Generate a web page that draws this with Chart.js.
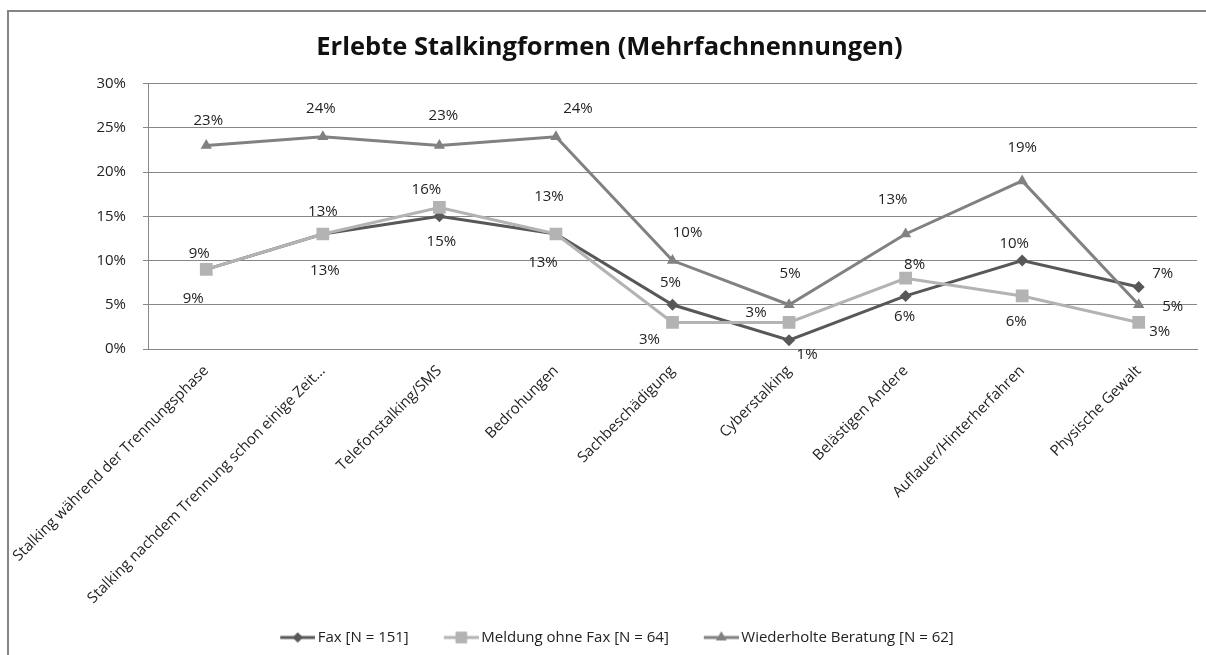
<!DOCTYPE html>
<html>
<head>
<meta charset="utf-8">
<script src="https://cdn.jsdelivr.net/npm/chart.js@4.4.1/dist/chart.umd.min.js"></script>
<style>
  html, body { margin: 0; padding: 0; background: #fff; }
  #wrap { width: 1206px; height: 655px; }
</style>
</head>
<body>
<div id="wrap"><canvas id="chart" width="1206" height="655"></canvas></div>
<script>
// Data
const categories = [
    'Stalking während der Trennungsphase',
    'Stalking nachdem Trennung schon einige Zeit...',
    'Telefonstalking/SMS',
    'Bedrohungen',
    'Sachbeschädigung',
    'Cyberstalking',
    'Belästigen Andere',
    'Auflauer/Hinterherfahren',
    'Physische Gewalt'
];
const seriesNames = ['Fax [N = 151]', 'Meldung ohne Fax [N = 64]', 'Wiederholte Beratung [N = 62]'];
const faxValues = [9, 13, 15, 13, 5, 1, 6, 10, 7];
const meldungValues = [9, 13, 16, 13, 3, 3, 8, 6, 3];
const beratungValues = [23, 24, 23, 24, 10, 5, 13, 19, 5];
const yMin = 0, yMax = 30, yStep = 5;

// where each value label sits relative to its point (dx, dy in px), like Excel did it
const faxLabelOffsets = [[-13, 29], [2, 37], [2, 25], [-13, 29], [-2, -22], [18, 15], [-1, 21], [-8, -17], [24, -13]];
const meldungLabelOffsets = [[-7, -16], [0, -22], [-13, -18], [-7, -37], [-23, 17], [-33, -10], [9, -13], [-6, 26], [21, 9]];
const beratungLabelOffsets = [[2, -25], [-2, -28], [4, -30], [22, -28], [15, -28], [1, -31], [-13, -34], [0, -33], [34, 2]];

const FONT = '"Open Sans", sans-serif';
const GRID = '#878787';
const TEXT = '#222';

// legend symbol: short line with the marker in the middle.
// The 15px blank on the left gives the wider gap between legend entries.
function legendSymbol(color, style, r) {
    const c = document.createElement('canvas');
    c.width = 55; c.height = 16;
    const ctx = c.getContext('2d');
    ctx.strokeStyle = color;
    ctx.lineWidth = 3;
    ctx.beginPath();
    ctx.moveTo(20, 8); ctx.lineTo(55, 8);
    ctx.stroke();
    ctx.fillStyle = color;
    Chart.helpers.drawPoint(ctx, { pointStyle: style, radius: r, rotation: 0, borderWidth: 0 }, 37.5, 8);
    ctx.fill();
    return c;
}

const framePlugin = {
    id: 'frame',
    beforeDraw(chart) {
        const ctx = chart.ctx;
        ctx.save();
        ctx.fillStyle = '#fff';
        ctx.fillRect(0, 0, chart.width, chart.height);
        ctx.strokeStyle = '#858585';
        ctx.lineWidth = 2;
        ctx.beginPath();
        ctx.moveTo(8, chart.height);
        ctx.lineTo(8, 11);
        ctx.lineTo(chart.width, 11);
        ctx.stroke();
        ctx.restore();
    }
};

const valueLabels = {
    id: 'valueLabels',
    afterDatasetsDraw(chart) {
        const ctx = chart.ctx;
        ctx.save();
        ctx.font = '15px ' + FONT;
        ctx.fillStyle = TEXT;
        ctx.textAlign = 'center';
        ctx.textBaseline = 'middle';
        chart.data.datasets.forEach((ds, d) => {
            const meta = chart.getDatasetMeta(d);
            meta.data.forEach((pt, i) => {
                const off = ds.labelOffsets[i];
                ctx.fillText(ds.data[i] + '%', pt.x + off[0], pt.y + off[1]);
            });
        });
        ctx.restore();
    }
};

const faxColor = '#585858';
const meldungColor = '#b3b3b3';
const beratungColor = '#818181';

new Chart(document.getElementById('chart'), {
    type: 'line',
    data: {
        labels: categories,
        datasets: [
            {
                label: seriesNames[0],
                data: faxValues,
                labelOffsets: faxLabelOffsets,
                borderColor: faxColor,
                backgroundColor: faxColor,
                borderWidth: 3,
                pointStyle: 'rectRot',
                pointRadius: 6,
                pointBorderWidth: 0,
                order: 3,
                legendIcon: legendSymbol(faxColor, 'rectRot', 5)
            },
            {
                label: seriesNames[1],
                data: meldungValues,
                labelOffsets: meldungLabelOffsets,
                borderColor: meldungColor,
                backgroundColor: meldungColor,
                borderWidth: 3,
                pointStyle: 'rect',
                pointRadius: 9,
                pointBorderWidth: 0,
                order: 2,
                legendIcon: legendSymbol(meldungColor, 'rect', 8)
            },
            {
                label: seriesNames[2],
                data: beratungValues,
                labelOffsets: beratungLabelOffsets,
                borderColor: beratungColor,
                backgroundColor: beratungColor,
                borderWidth: 3,
                pointStyle: 'triangle',
                pointRadius: 6.5,
                pointBorderWidth: 0,
                order: 1,
                legendIcon: legendSymbol(beratungColor, 'triangle', 6)
            }
        ]
    },
    options: {
        responsive: false,
        animation: false,
        layout: { padding: { left: 22, right: 9, top: 0, bottom: 0 } },
        plugins: {
            title: {
                display: true,
                text: 'Erlebte Stalkingformen (Mehrfachnennungen)',
                color: '#111',
                font: { family: FONT, size: 25.5, weight: 'bold', lineHeight: 1.2 },
                padding: { top: 32, bottom: 21 }
            },
            legend: {
                position: 'bottom',
                labels: {
                    font: { family: FONT, size: 15 },
                    color: TEXT,
                    usePointStyle: true,
                    pointStyleWidth: 45,
                    padding: 20,
                    generateLabels(chart) {
                        return chart.data.datasets.map((ds, i) => ({
                            text: ds.label,
                            pointStyle: ds.legendIcon,
                            fillStyle: ds.borderColor,
                            strokeStyle: ds.borderColor,
                            lineWidth: 0,
                            fontColor: TEXT,
                            hidden: false,
                            datasetIndex: i
                        }));
                    }
                }
            },
            tooltip: { enabled: false }
        },
        scales: {
            x: {
                offset: true,
                grid: { display: false, offset: true },
                border: { display: true, color: GRID, width: 1 },
                ticks: {
                    color: TEXT,
                    font: { family: FONT, size: 15 },
                    minRotation: 45,
                    maxRotation: 45,
                    autoSkip: false,
                    padding: 5
                },
                afterFit(scale) { scale.height = 261; }
            },
            y: {
                min: yMin,
                max: yMax,
                grid: { color: GRID, lineWidth: 1, tickLength: 5, drawTicks: true },
                border: { display: true, color: GRID, width: 1 },
                ticks: {
                    stepSize: yStep,
                    color: TEXT,
                    font: { family: FONT, size: 15 },
                    padding: 17,
                    callback: (v) => v + '%'
                },
                afterFit(scale) { scale.width = 126; }
            }
        }
    },
    plugins: [framePlugin, valueLabels]
});
</script>
</body>
</html>
